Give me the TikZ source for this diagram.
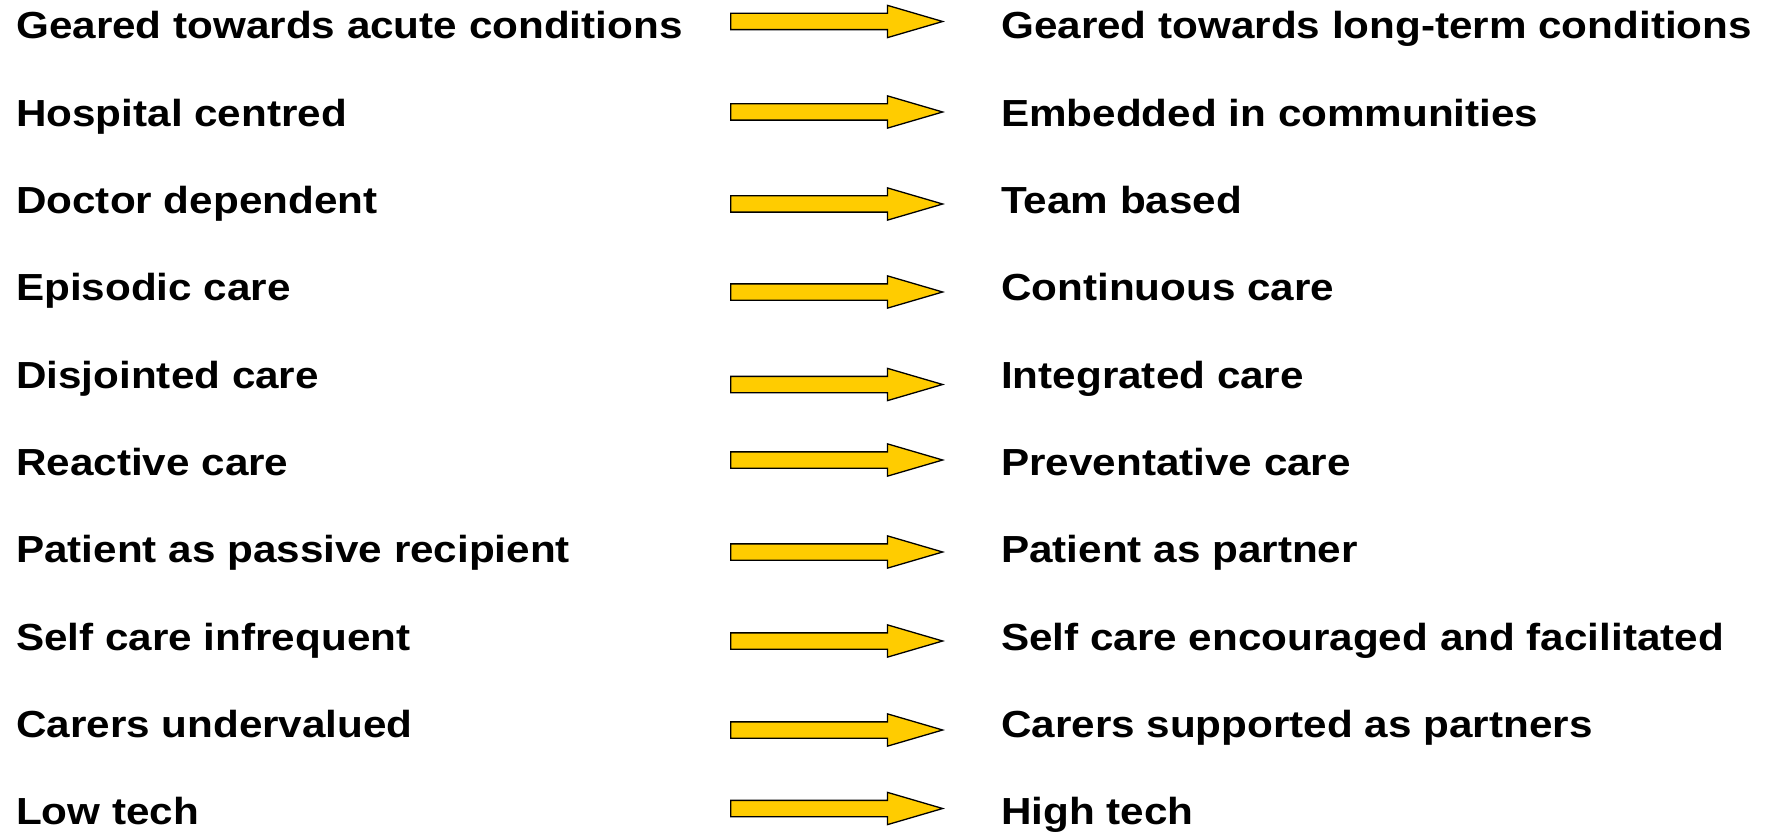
\documentclass[tikz,border=0pt]{standalone}
\usepackage{fontspec}
\setmainfont{Liberation Sans}[FakeStretch=1.12]
\usetikzlibrary{shapes.arrows}
\definecolor{arrowyellow}{HTML}{FFCC00}
\tikzset{
  item/.style={anchor=base west, inner sep=0pt, font=\fontsize{37.7}{45}\selectfont\bfseries},
  fatarrow/.style={single arrow, draw=black, line width=1.3pt, fill=arrowyellow,
    anchor=tail, inner xsep=0pt, inner ysep=7.5pt, minimum height=212pt, minimum width=31pt,
    single arrow head extend=8pt, single arrow tip angle=32.6}
}
\begin{document}
\begin{tikzpicture}[x=1pt, y=-1pt]
\useasboundingbox (0,0) rectangle (1774,834);
% old
\node[item] (o1) at (16, 39) {Geared towards acute conditions};
\node[item] (o2) at (16, 126.3) {Hospital centred};
\node[item] (o3) at (16, 213.6) {Doctor dependent};
\node[item] (o4) at (16, 300.9) {Episodic care};
\node[item] (o5) at (16, 388.2) {Disjointed care};
\node[item] (o6) at (16, 475.5) {Reactive care};
\node[item] (o7) at (16, 562.8) {Patient as passive recipient};
\node[item] (o8) at (16, 650.1) {Self care infrequent};
\node[item] (o9) at (16, 737.4) {Carers undervalued};
\node[item] (o10) at (16, 824.7) {Low tech};
% new
\node[item] (n1) at (1001, 39) {Geared towards long-term conditions};
\node[item] (n2) at (1001, 126.3) {Embedded in communities};
\node[item] (n3) at (1001, 213.6) {Team based};
\node[item] (n4) at (1001, 300.9) {Continuous care};
\node[item] (n5) at (1001, 388.2) {Integrated care};
\node[item] (n6) at (1001, 475.5) {Preventative care};
\node[item] (n7) at (1001, 562.8) {Patient as partner};
\node[item] (n8) at (1001, 650.1) {Self care encouraged and facilitated};
\node[item] (n9) at (1001, 737.4) {Carers supported as partners};
\node[item] (n10) at (1001, 824.7) {High tech};
% arrows
\node[fatarrow] (a1) at (730, 21.5) {};
\node[fatarrow] (a2) at (730, 112) {};
\node[fatarrow] (a3) at (730, 204) {};
\node[fatarrow] (a4) at (730, 292) {};
\node[fatarrow] (a5) at (730, 384.5) {};
\node[fatarrow] (a6) at (730, 460) {};
\node[fatarrow] (a7) at (730, 552) {};
\node[fatarrow] (a8) at (730, 641) {};
\node[fatarrow] (a9) at (730, 730) {};
\node[fatarrow] (a10) at (730, 808.5) {};
\end{tikzpicture}
\end{document}
